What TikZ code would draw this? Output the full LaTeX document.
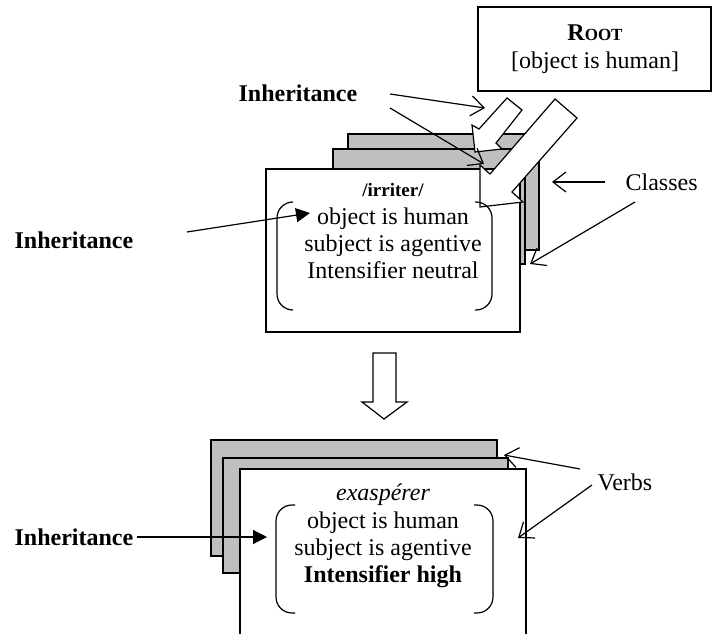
\documentclass[tikz,border=0pt]{standalone}
\usepackage{fontspec}
\setmainfont{Liberation Serif}
\usetikzlibrary{arrows.meta}
\definecolor{sheetgray}{RGB}{191,191,191}
\begin{document}
\begin{tikzpicture}[x=1pt,y=-1pt, line width=1.2pt,
  sheet/.style={draw=black, fill=sheetgray},
  card/.style={draw=black, fill=white},
  blockarrow/.style={draw=black, fill=white, line join=miter},
  lbl/.style={inner sep=0pt, font=\fontsize{24}{27}\selectfont},
  bl/.style={inner sep=0pt, font=\fontsize{24}{27}\selectfont\bfseries},
  openarr/.style={-{Straight Barb[length=13pt,width=20pt,line width=1.2pt]}},
  fillarr/.style={-{Triangle[length=14pt,width=14pt]}},
  bracket/.style={rounded corners=16pt},
]
\useasboundingbox (0,0) rectangle (712,634);

% ROOT box
\draw[card] (478,7) rectangle (711,91);
\node[lbl] (rootname) at (595,33) {\bfseries R{\fontsize{17}{17}\selectfont OOT}};
\node[lbl] (rootcond) at (595,63) {[object is human]};

% upper stack of classes
\draw[sheet] (348,134) rectangle (539,250);
\draw[sheet] (333,149) rectangle (525,264);
\draw[card] (266,169) rectangle (520,332);

% block arrows from ROOT
\draw[blockarrow] (507,98) -- (522,110) -- (496,143) -- (502,149) -- (475,152) -- (472,125) -- (479,129) -- cycle;
\draw[blockarrow] (555,99) -- (577,118) -- (512,192) -- (523,202) -- (480,207) -- (480,165) -- (490,174) -- cycle;

% class content
\node[inner sep=0pt, font=\fontsize{19}{19}\selectfont\bfseries] (irrname) at (393,190) {/irriter/};
\node[lbl, align=center] (irrtext) at (393,243) {object is human\\subject is agentive\\Intensifier neutral};
\draw[bracket] (293,202) -- (277,202) -- (277,310) -- (293,310);
\draw[bracket] (475,202) -- (492,202) -- (492,310) -- (475,310);

% down block arrow
\draw[blockarrow] (373,353) -- (396,353) -- (396,402) -- (407,402) -- (384,419) -- (362,402) -- (373,402) -- cycle;

% lower stack of verbs
\draw[sheet] (211,440) rectangle (497,556);
\draw[sheet] (223,458) rectangle (508,573);
\fill[white] (240,469) rectangle (526,640);
\draw (240,640) -- (240,469) -- (526,469) -- (526,640);
\node[inner sep=0pt, font=\fontsize{24}{27}\selectfont\itshape] (exaname) at (383,495) {exaspérer};
\node[lbl, align=center] (exatext) at (383,550) {object is human\\subject is agentive\\\textbf{Intensifier high}};
\draw[bracket] (295,505) -- (276,505) -- (276,613) -- (295,613);
\draw[bracket] (474,505) -- (493,505) -- (493,613) -- (474,613);

% labels
\node[bl, anchor=west] (inhA) at (238,93) {Inheritance};
\node[bl, anchor=west] (inhB) at (14,240) {Inheritance};
\node[bl, anchor=west] (inhC) at (14,537) {Inheritance};
\node[lbl, anchor=west] (cls) at (625,182) {Classes};
\node[lbl, anchor=west] (vrb) at (597,482) {Verbs};

% connector end points
\coordinate (a1s) at (390,94);  \coordinate (a1e) at (485,108);
\coordinate (a2s) at (390,108); \coordinate (a2e) at (484,164);
\coordinate (bs) at (187,232);  \coordinate (be) at (310,213);
\coordinate (cs) at (137,537);  \coordinate (ce) at (267,537);
\coordinate (k1s) at (605,182); \coordinate (k1e) at (552,182);
\coordinate (k2s) at (635,202); \coordinate (k2e) at (530,264);
\coordinate (v1s) at (580,469); \coordinate (v1e) at (504,455);
\coordinate (v2s) at (592,485); \coordinate (v2e) at (518,538);

\draw[openarr] (a1s) -- (a1e);
\draw[openarr] (a2s) -- (a2e);
\draw[fillarr] (bs) -- (be);
\draw[fillarr] (cs) -- (ce);
\draw[openarr] (k1s) -- (k1e);
\draw[openarr] (k2s) -- (k2e);
\draw[openarr] (v1s) -- (v1e);
\draw[openarr] (v2s) -- (v2e);
\end{tikzpicture}
\end{document}
